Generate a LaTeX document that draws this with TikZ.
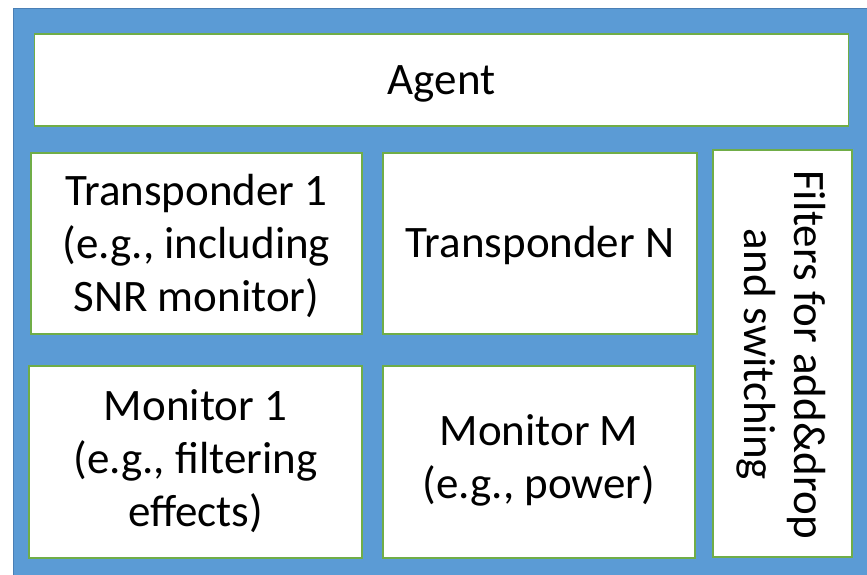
\documentclass[tikz,border=0pt]{standalone}
\usepackage{fontspec}
\setmainfont{Carlito}
\definecolor{bgblue}{HTML}{5B9BD5}
\definecolor{edgeblue}{HTML}{4A7FB5}
\definecolor{boxgreen}{HTML}{70AD47}
\begin{document}
\begin{tikzpicture}[x=1pt,y=1pt,
  box/.style={draw=boxgreen, fill=white, line width=1.5pt, inner sep=0pt},
  txt/.style={inner sep=0pt, align=center, font=\fontsize{45}{53}\selectfont},
  ]
\useasboundingbox (0,0) rectangle (867,-575);
\filldraw[fill=bgblue, draw=edgeblue, line width=1pt] (13.5,-8.5) rectangle (868,-576);
\node[box, minimum width=814pt, minimum height=92pt] (agent) at (441.5,-80) {};
\node[box, minimum width=331pt, minimum height=181pt] (t1) at (196.5,-243.5) {};
\node[box, minimum width=314pt, minimum height=181pt] (tn) at (540,-243.5) {};
\node[box, minimum width=333pt, minimum height=192pt] (m1) at (195.5,-462) {};
\node[box, minimum width=312pt, minimum height=192pt] (mm) at (539,-462) {};
\node[box, minimum width=139pt, minimum height=407pt] (filt) at (782.5,-353.5) {};
\node[txt] (agenttext) at ([yshift=-4pt]agent.center) {Agent};
\node[txt] (t1text) at ([yshift=-2pt]t1.center) {Transponder 1\\(e.g., including\\SNR monitor)};
\node[txt] (tntext) at ([yshift=-2pt]tn.center) {Transponder N};
\node[txt] (m1text) at ([yshift=1pt]m1.center) {Monitor 1\\(e.g., filtering\\effects)};
\node[txt] (mmtext) at ([yshift=2pt]mm.center) {Monitor M\\(e.g., power)};
\node[txt, font=\fontsize{45}{50}\selectfont, rotate=-90] (filttext) at ([xshift=-1pt,yshift=-1pt]filt.center) {Filters for add\&drop\\and switching};
\end{tikzpicture}
\end{document}
